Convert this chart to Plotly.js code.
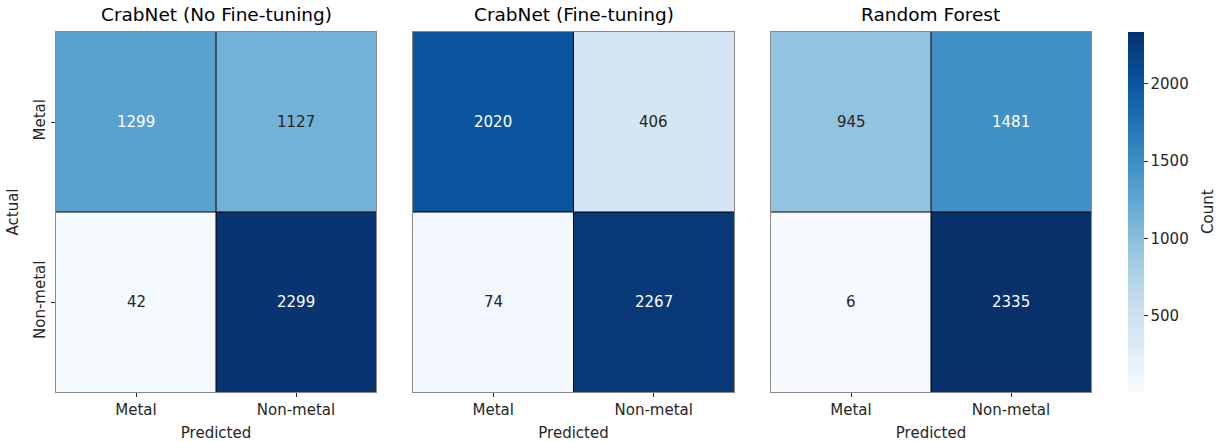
<!DOCTYPE html>
<html>
<head>
<meta charset="utf-8">
<script src="https://cdn.plot.ly/plotly-3.0.1.min.js"></script>
<style>html,body{margin:0;padding:0;background:#fff;}#chart{width:1220px;height:442px;}</style>
</head>
<body>
<div id="chart"></div>
<script>
const classes = ['Metal', 'Non-metal'];
const modelTitles = ['CrabNet (No Fine-tuning)', 'CrabNet (Fine-tuning)', 'Random Forest'];
// rows = actual, cols = predicted
const crabnetNoFT = [[1299, 1127], [42, 2299]];
const crabnetFT = [[2020, 406], [74, 2267]];
const randomForest = [[945, 1481], [6, 2335]];
const colorbarTicks = [500, 1000, 1500, 2000];
const colorbarTitle = 'Count';
const xTitle = 'Predicted';
const yTitle = 'Actual';

const matrices = [crabnetNoFT, crabnetFT, randomForest];
const all = matrices.flat(2);
const zmin = Math.min(...all), zmax = Math.max(...all);

const W = 1220, H = 442;
const px = v => v / W, py = v => 1 - v / H;
const xDomains = [[56, 376], [413, 734], [771, 1091]];
const yTop = 32, yBot = 392;

const blues = [
  [0.0, '#f7fbff'], [0.125, '#deebf7'], [0.25, '#c6dbef'], [0.375, '#9ecae1'],
  [0.5, '#6baed6'], [0.625, '#4292c6'], [0.75, '#2171b5'], [0.875, '#08519c'], [1.0, '#08306b']
];
const FONT = 'DejaVu Sans';
const FS = 15;
const TXT = '#262626';

const traces = [];
const layout = {
  width: W, height: H,
  margin: {l: 0, r: 0, t: 0, b: 0},
  paper_bgcolor: '#fff', plot_bgcolor: '#fff',
  font: {family: FONT, size: FS, color: TXT},
  showlegend: false,
  coloraxis: {
    colorscale: blues, cmin: zmin, cmax: zmax,
    colorbar: {
      x: px(1128), xanchor: 'left', xref: 'paper', xpad: 0,
      y: (py(yTop) + py(yBot)) / 2, yanchor: 'middle', ypad: 0,
      thickness: 16, thicknessmode: 'pixels',
      len: yBot - yTop, lenmode: 'pixels',
      outlinewidth: 0,
      ticks: 'outside', ticklen: 4, tickcolor: TXT, tickwidth: 1,
      tickvals: colorbarTicks,
      tickprefix: '\u2009',
      tickfont: {family: FONT, size: FS, color: TXT},
      title: {text: ''}
    }
  },
  annotations: [{
    text: colorbarTitle, xref: 'paper', yref: 'paper',
    x: px(1208), y: (py(yTop) + py(yBot)) / 2, xanchor: 'center', yanchor: 'middle',
    textangle: -90, showarrow: false, font: {family: FONT, size: FS, color: TXT}
  }],
  shapes: []
};

matrices.forEach((m, i) => {
  const n = i === 0 ? '' : String(i + 1);
  const xa = 'x' + n, ya = 'y' + n;
  traces.push({
    type: 'heatmap', z: m, x: classes, y: classes,
    coloraxis: 'coloraxis', xaxis: xa, yaxis: ya,
    hoverinfo: 'skip'
  });
  layout['xaxis' + n] = {
    domain: [px(xDomains[i][0]), px(xDomains[i][1])],
    anchor: ya,
    showline: true, linecolor: '#8a8a8a', linewidth: 1, mirror: true,
    showgrid: false, zeroline: false,
    ticks: 'outside', ticklen: 4, tickcolor: TXT,
    tickfont: {family: FONT, size: FS, color: TXT},
    title: {text: xTitle, font: {family: FONT, size: FS, color: TXT}, standoff: 10},
    fixedrange: true
  };
  layout['yaxis' + n] = {
    domain: [py(yBot), py(yTop)],
    anchor: xa,
    autorange: 'reversed',
    showline: true, linecolor: '#8a8a8a', linewidth: 1, mirror: true,
    showgrid: false, zeroline: false,
    ticks: i === 0 ? 'outside' : '', ticklen: 4, tickcolor: TXT,
    showticklabels: i === 0,
    tickangle: -90,
    tickfont: {family: FONT, size: FS, color: TXT},
    title: i === 0 ? {text: yTitle, font: {family: FONT, size: FS, color: TXT}, standoff: 8} : {text: ''},
    fixedrange: true
  };
  // subplot title
  layout.annotations.push({
    text: modelTitles[i], xref: 'paper', yref: 'paper',
    x: px((xDomains[i][0] + xDomains[i][1]) / 2), y: py(15),
    xanchor: 'center', yanchor: 'middle', showarrow: false,
    font: {family: FONT, size: 18.5, color: '#000'}
  });
  // cell text
  m.forEach((row, r) => row.forEach((v, c) => {
    const frac = (v - zmin) / (zmax - zmin);
    layout.annotations.push({
      text: String(v), x: classes[c], y: classes[r], xref: xa, yref: ya,
      showarrow: false, font: {family: FONT, size: FS, color: frac > 0.5 ? '#ffffff' : TXT}
    });
  }));
  // internal cell borders
  layout.shapes.push({type: 'line', xref: xa, yref: ya + ' domain', x0: 0.5, x1: 0.5, y0: 0, y1: 1, line: {color: '#000', width: 1}});
  layout.shapes.push({type: 'line', xref: xa + ' domain', yref: ya, x0: 0, x1: 1, y0: 0.5, y1: 0.5, line: {color: '#000', width: 1}});
});

Plotly.newPlot('chart', traces, layout, {staticPlot: true, displayModeBar: false});
</script>
</body>
</html>
